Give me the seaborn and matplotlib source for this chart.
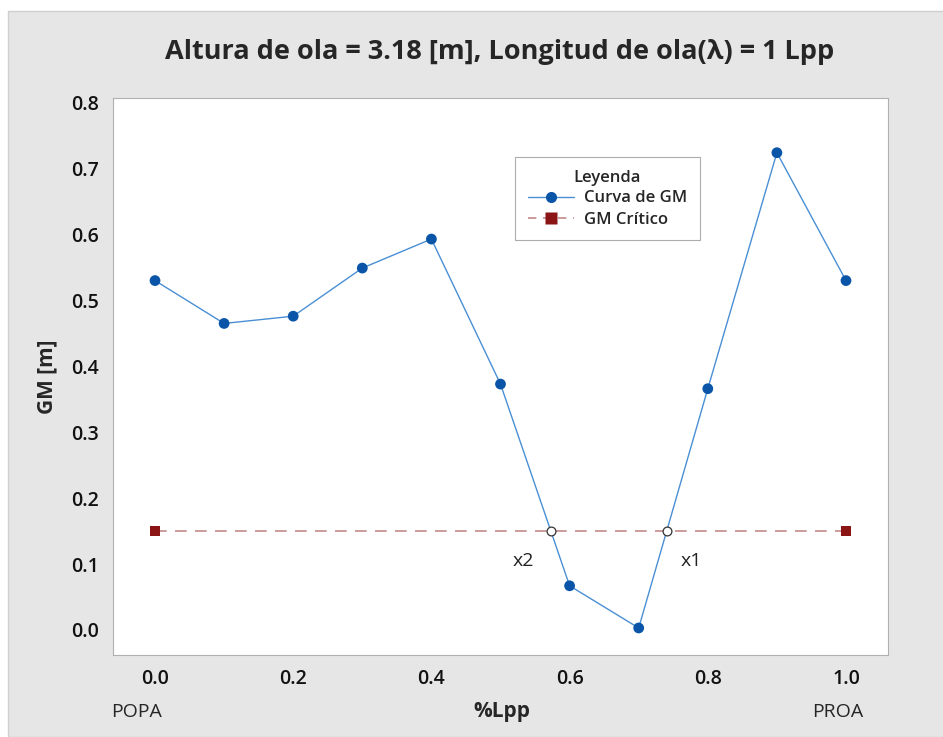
import numpy as np
import pandas as pd
import seaborn as sns
import matplotlib
matplotlib.use("Agg")
import matplotlib.pyplot as plt
from matplotlib.patches import Rectangle
from matplotlib.lines import Line2D

# Data
pos = [0.0, 0.1, 0.2, 0.3, 0.4, 0.5, 0.6, 0.7, 0.8, 0.9, 1.0]
gm = [0.530, 0.465, 0.476, 0.549, 0.593, 0.373, 0.067, 0.003, 0.366, 0.724, 0.530]
crit_x = [0.0, 1.0]
crit_y = [0.15, 0.15]
xticks = [0.0, 0.2, 0.4, 0.6, 0.8, 1.0]
yticks = [0.0, 0.1, 0.2, 0.3, 0.4, 0.5, 0.6, 0.7, 0.8]

sns.set_theme(style="white")
plt.rcParams['font.family'] = ['Open Sans', 'DejaVu Sans']

fig = plt.figure(figsize=(9.43, 7.37), dpi=100)
fig.patch.set_facecolor("white")
fig.patches.append(Rectangle((8/943, 0), 1, 1 - 11/737, transform=fig.transFigure,
                             facecolor="#e6e6e6", edgecolor="#cfcfcf", lw=1, zorder=-10))

ax = fig.add_axes([113/943, 1 - 655/737, (888 - 113)/943, (655 - 98)/737])
ax.set_facecolor("white")

df = pd.DataFrame({"pos": pos, "gm": gm})
crit = pd.DataFrame({"pos": crit_x, "gm": crit_y})

sns.lineplot(data=crit, x="pos", y="gm", ax=ax, color="#c48a8a", lw=1.2,
             dashes=False, linestyle=(0, (7, 5)), zorder=1)
sns.scatterplot(data=crit, x="pos", y="gm", ax=ax, marker="s", s=60, color="#8b1414",
                edgecolor="none", zorder=3)
sns.lineplot(data=df, x="pos", y="gm", ax=ax, color="#4a8fd4", lw=1.0, zorder=2)
sns.scatterplot(data=df, x="pos", y="gm", ax=ax, s=60, color="#0a55a8",
                edgecolor="none", zorder=4)

# intersections of GM curve with critical GM
c = crit_y[0]
inter = []
for i in range(len(pos) - 1):
    y0, y1 = gm[i], gm[i + 1]
    if (y0 - c) * (y1 - c) < 0:
        t = (y0 - c) / (y0 - y1)
        inter.append(pos[i] + t * (pos[i + 1] - pos[i]))
ax.scatter(inter, [c] * len(inter), s=40, facecolor="white", edgecolor="#333333",
           linewidth=0.9, zorder=5)
ax.text(inter[0] - 0.04, c - 0.045, "x2", fontsize=14, ha="center", va="center", color="#222222")
ax.text(inter[1] + 0.036, c - 0.045, "x1", fontsize=14, ha="center", va="center", color="#222222")

ax.set_xlim(-0.0608, 1.0608)
ax.set_ylim(-0.038, 0.807)
ax.set_xticks(xticks)
ax.set_yticks(yticks)
ax.set_xticklabels([f"{v:.1f}" for v in xticks], fontsize=14, fontweight="semibold", color="#111111")
ax.set_yticklabels([f"{v:.1f}" for v in yticks], fontsize=14, fontweight="semibold", color="#111111")
ax.tick_params(axis="both", direction="out", length=5, width=0.8, color="#aaaaaa", pad=5)
for s in ax.spines.values():
    s.set_color("#b0b0b0")
    s.set_linewidth(0.8)

ax.set_xlabel("")
ax.set_ylabel("GM [m]", fontsize=15, fontweight="bold", labelpad=10)
fig.text(502/943, 1 - 711/737, "%Lpp", fontsize=15, fontweight="bold", ha="center", va="center")
fig.text(137/943, 1 - 712/737, "POPA", fontsize=14, ha="center", va="center")
fig.text(838/943, 1 - 712/737, "PROA", fontsize=14, ha="center", va="center")
fig.text(500/943, 1 - 52/737, "Altura de ola = 3.18 [m], Longitud de ola(λ) = 1 Lpp",
         fontsize=19.5, fontweight="bold", ha="center", va="center")

handles = [Line2D([0], [0], color="#4a8fd4", lw=1.0, marker="o", markersize=8,
                  markerfacecolor="#0a55a8", markeredgecolor="none"),
           Line2D([0], [0], color="#c48a8a", lw=1.2, linestyle=(0, (5, 4)), marker="s", markersize=8,
                  markerfacecolor="#8b1414", markeredgecolor="none")]
leg = ax.legend(handles, ["Curva de GM", "GM Crítico"], title="Leyenda",
                loc="upper left", bbox_to_anchor=((515 - 113)/775, (655 - 157)/557),
                borderaxespad=0, fontsize=12, title_fontsize=12, frameon=True, fancybox=False,
                edgecolor="#999999", handlelength=2.8, handletextpad=0.6,
                borderpad=0.75, labelspacing=0.3)
leg.get_title().set_fontweight("semibold")
for t in leg.get_texts():
    t.set_fontweight("semibold")
leg.get_frame().set_linewidth(0.8)

fig.savefig("out.png", dpi=100)
